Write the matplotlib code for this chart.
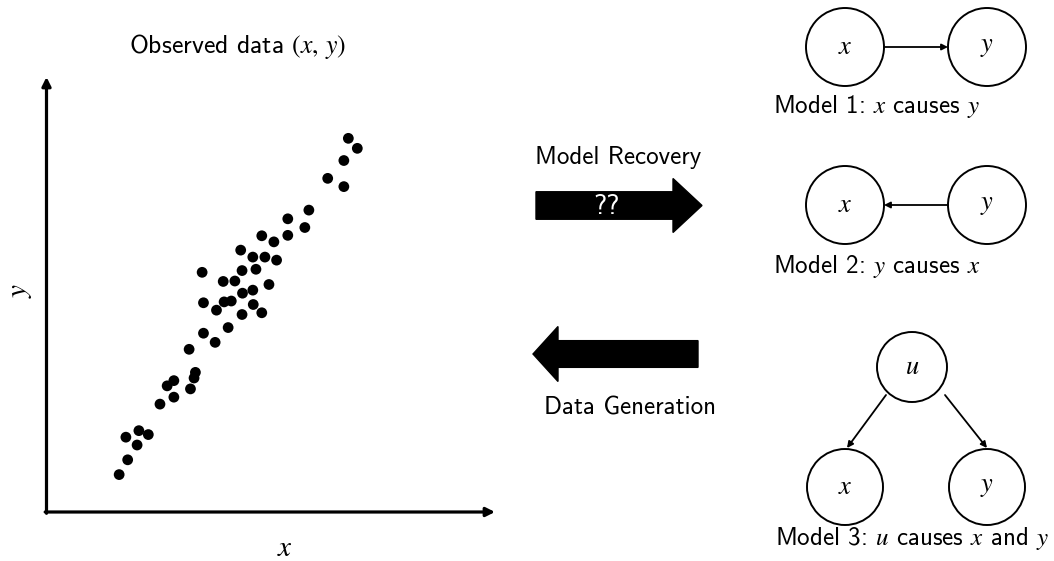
"""
因果模型示意图: 观测数据 (x, y) 与三种可能的因果结构
"""

import matplotlib
matplotlib.use("Agg")
import matplotlib.pyplot as plt
from matplotlib import patches

plt.rcParams['font.family'] = ['cmss10', 'DejaVu Sans']
plt.rcParams['mathtext.fontset'] = 'stix'
plt.rcParams['axes.unicode_minus'] = False

# 观测数据 (x, y)
obs_x = [6.73, 6.93, 6.63, 6.27, 6.63, 5.85, 5.38, 5.76, 4.80, 5.38,
         5.07, 4.33, 4.60, 4.87, 5.13, 3.47, 4.36, 4.67, 3.94, 4.20,
         4.96, 4.60, 4.37, 3.50, 3.96, 4.12, 3.79, 4.61, 4.36, 4.80,
         4.05, 3.50, 3.76, 3.18, 3.32, 3.29, 2.84, 2.69, 3.21, 2.84,
         2.53, 2.06, 2.27, 1.77, 2.02, 1.81, 1.62]
obs_y = [8.59, 8.36, 8.08, 7.67, 7.48, 6.94, 6.74, 6.54, 6.35, 6.36,
         6.21, 6.02, 5.86, 5.86, 5.79, 5.51, 5.55, 5.58, 5.30, 5.31,
         5.23, 5.10, 5.03, 4.81, 4.83, 4.85, 4.64, 4.77, 4.54, 4.58,
         4.24, 4.11, 3.90, 3.74, 3.21, 3.08, 3.02, 2.90, 2.83, 2.64,
         2.48, 1.87, 1.78, 1.72, 1.54, 1.20, 0.86]

title_text = r"Observed data $(x,\, y)$"
model_labels = [r"Model 1: $x$ causes $y$",
                r"Model 2: $y$ causes $x$",
                r"Model 3: $u$ causes $x$ and $y$"]
arrow_labels = ["Model Recovery", "Data Generation"]

W, H = 1054, 561
fig = plt.figure(figsize=(W / 100, H / 100), dpi=100)

# 散点图
ax = fig.add_axes([46.5 / W, 1 - 512 / H, 448.5 / W, 435 / H])
ax.scatter(obs_x, obs_y, s=60, color='black', edgecolors='none', zorder=3)
ax.set_xlim(0, 10)
ax.set_ylim(0, 10)
ax.set_xticks([])
ax.set_yticks([])
for sp in ax.spines.values():
    sp.set_visible(False)
axis_arrow = dict(arrowstyle='-|>', lw=2.3, color='black',
                  mutation_scale=13, shrinkA=0, shrinkB=0)
ax.annotate('', xy=(1, 0), xytext=(-0.003, 0), xycoords='axes fraction',
            arrowprops=axis_arrow)
ax.annotate('', xy=(0, 1), xytext=(0, -0.003), xycoords='axes fraction',
            arrowprops=axis_arrow)

# 覆盖整张图的画布 (像素坐标)
ov = fig.add_axes([0, 0, 1, 1], zorder=-1)
ov.set_xlim(0, W)
ov.set_ylim(H, 0)
ov.axis('off')

ov.text(238, 46, title_text, fontsize=18.5, ha='center', va='center')
ov.text(285, 549, r"$x$", fontsize=21, ha='center', va='center')
ov.text(20, 290, r"$y$", fontsize=21, ha='center', va='center', rotation=90)

# 中间的大箭头
ov.add_patch(patches.FancyArrow(536, 205.5, 166, 0, width=27.5,
                                head_width=54, head_length=29,
                                length_includes_head=True, color='black'))
ov.text(607, 206, "??", fontsize=20, color='white', ha='center', va='center')
ov.text(618, 157, arrow_labels[0], fontsize=18, ha='center', va='center')

ov.add_patch(patches.FancyArrow(698, 354, -165, 0, width=26.7,
                                head_width=55, head_length=25,
                                length_includes_head=True, color='black'))
ov.text(630, 408, arrow_labels[1], fontsize=18, ha='center', va='center')


def node(x, y, label, r=39):
    ov.add_patch(patches.Circle((x, y), r, fill=False, lw=1.4, ec='black'))
    ov.text(x, y, "$%s$" % label, fontsize=19, ha='center', va='center')


def edge(x0, y0, x1, y1):
    ov.annotate('', xy=(x1, y1), xytext=(x0, y0), xycoords='data',
                arrowprops=dict(arrowstyle='-|>', lw=1.3, color='black',
                                mutation_scale=9, shrinkA=0, shrinkB=0))


# Model 1
node(845, 47, 'x')
node(987, 47, 'y')
edge(884, 47, 948, 47)
ov.text(773, 106, model_labels[0], fontsize=18, ha='left', va='center')

# Model 2
node(845, 205, 'x')
node(987, 205, 'y')
edge(948, 205, 884, 205)
ov.text(773, 266, model_labels[1], fontsize=18, ha='left', va='center')

# Model 3
node(912, 367, 'u', r=35)
node(845, 487, 'x', r=38)
node(987, 487, 'y', r=38)
edge(886, 395, 847, 448)
edge(945, 395, 987, 448)
ov.text(912, 538, model_labels[2], fontsize=18, ha='center', va='center')

fig.savefig("out.png", dpi=100)
